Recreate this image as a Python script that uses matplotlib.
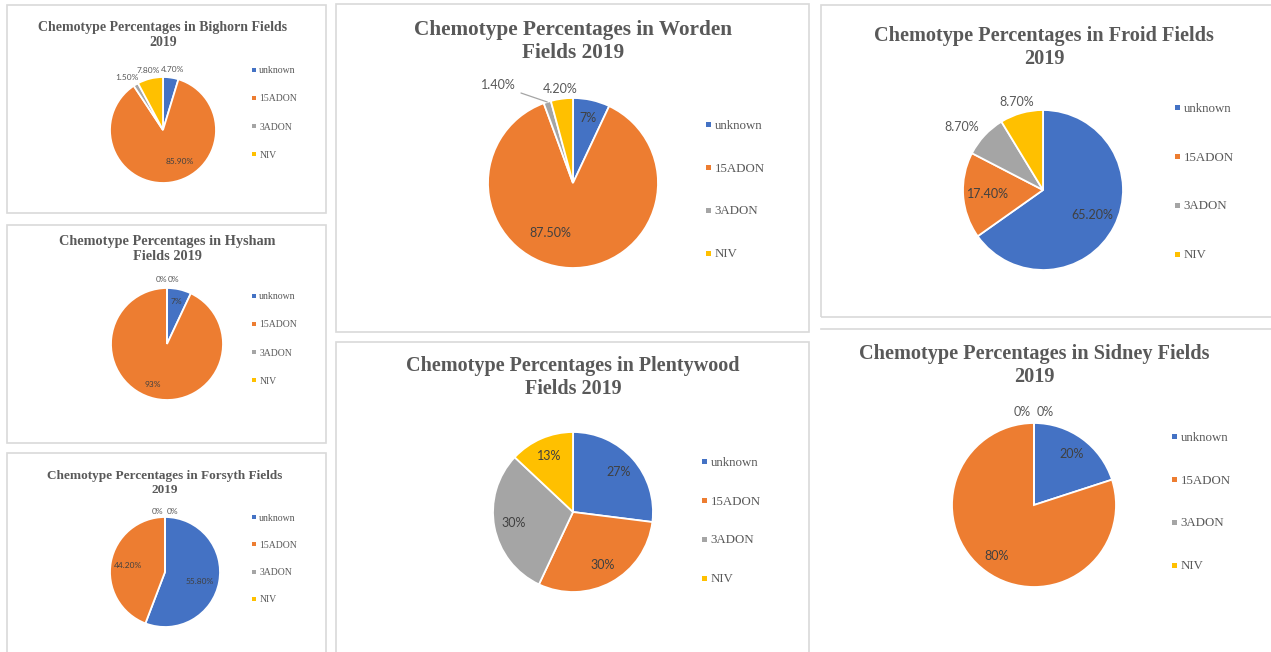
import math
import matplotlib
matplotlib.use("Agg")
import matplotlib.pyplot as plt
from matplotlib.patches import Rectangle
from matplotlib.lines import Line2D

# ---------------- data ----------------
categories = ["unknown", "15ADON", "3ADON", "NIV"]
sites = ["Bighorn", "Hysham", "Forsyth", "Worden", "Plentywood", "Froid", "Sidney"]
titles = [
    "Chemotype Percentages in Bighorn Fields\n2019",
    "Chemotype Percentages in Hysham\nFields 2019",
    "Chemotype Percentages in Forsyth Fields\n2019",
    "Chemotype Percentages in Worden\nFields 2019",
    "Chemotype Percentages in Plentywood\nFields 2019",
    "Chemotype Percentages in Froid Fields\n2019",
    "Chemotype Percentages in Sidney Fields\n2019",
]
bighorn = [4.7, 85.9, 1.5, 7.8]
hysham = [7, 93, 0, 0]
forsyth = [55.8, 44.2, 0, 0]
worden = [7, 87.5, 1.4, 4.2]
plentywood = [27, 30, 30, 13]
froid = [65.2, 17.4, 8.7, 8.7]
sidney = [20, 80, 0, 0]
values = [bighorn, hysham, forsyth, worden, plentywood, froid, sidney]

colors = ["#4472C4", "#ED7D31", "#A5A5A5", "#FFC000"]

# ---------------- layout (pixels, top-left origin) ----------------
W, H = 1271, 652
DPI = 100

small = dict(leg_fs=7, lab_fs=6, ms=2.6, zero_off=(-2, 2))
big = dict(leg_fs=9.3, lab_fs=9, ms=3.6, zero_off=(-3, 3))
layout = [
    dict(small, title_fs=10, c=(163, 130), r=53, t=(163, 35), leg=(252, 113), pitch=30,
         inside=0.63, outside=1.16, out_idx={0, 2, 3}, nudge={1: (12, -2), 2: (-5, 0)}),
    dict(small, title_fs=10.3, c=(167, 344), r=56, t=(167, 249), leg=(252, 339), pitch=30,
         inside=0.77, outside=1.16, out_idx={2, 3}, nudge={1: (-5, -2)},
         zero_off=(0, 1)),
    dict(small, title_fs=9.5, c=(165, 572), r=55, t=(165, 483), leg=(252, 559), pitch=29,
         inside=0.68, outside=1.1, out_idx={2, 3}, nudge={0: (-2, 3)}),
    dict(big, title_fs=15.3, c=(573, 183), r=85, t=(573, 42), leg=(705, 190), pitch=45,
         inside=0.78, outside=1.12, out_idx={3}, nudge={1: (-20, -16)}),
    dict(big, title_fs=14.5, c=(573, 512), r=80, t=(573, 377), leg=(701, 521), pitch=41,
         inside=0.76, outside=1.15, out_idx=set(), nudge={}),
    dict(big, title_fs=14.6, c=(1043, 190), r=80, t=(1044, 47), leg=(1174, 182), pitch=51,
         inside=0.69, outside=1.2, out_idx={2, 3}, nudge={2: (-11, 2), 3: (0, 4)}),
    dict(big, title_fs=14.6, c=(1034, 505), r=82, t=(1034, 366), leg=(1171, 502), pitch=45,
         inside=0.77, outside=1.13, out_idx={2, 3}, nudge={}),
]
panels = [(7, 5, 326, 213), (7, 225, 326, 443), (7, 453, 326, 670),
          (336, 4, 809, 332), (336, 342, 809, 670), (821, 5, 1280, 317)]

TITLE_C = "#595959"
IN_C = "#404040"
OUT_C = "#595959"
SERIF = "Liberation Serif"
SANS = "Lato"


def fx(x):
    return x / W


def fy(y):
    return 1 - y / H


def fmt(v):
    return f"{v:.0f}%" if float(v).is_integer() else f"{v:.2f}%"


fig = plt.figure(figsize=(W / DPI, H / DPI), dpi=DPI)
fig.patch.set_facecolor("white")

# panel borders
for (x0, y0, x1, y1) in panels:
    fig.add_artist(Rectangle((fx(x0), fy(y1)), fx(x1) - fx(x0), fy(y0) - fy(y1),
                             transform=fig.transFigure, fill=False,
                             edgecolor="#D9D9D9", lw=1.2))
fig.add_artist(Line2D([fx(821), fx(1275)], [fy(329), fy(329)],
                      transform=fig.transFigure, color="#D9D9D9", lw=1.2))

for k, (vals, title, L) in enumerate(zip(values, titles, layout)):
    cx, cy = L["c"]
    r = L["r"]
    s = 1.7 * r
    ax = fig.add_axes([fx(cx - s), fy(cy + s), 2 * s / W, 2 * s / H])
    wedges, _ = ax.pie(vals, colors=colors, startangle=90, counterclock=False,
                       radius=1, wedgeprops=dict(edgecolor="white", linewidth=1.3))
    ax.set_xlim(-1.7, 1.7)
    ax.set_ylim(-1.7, 1.7)
    ax.axis("off")

    zero_seen = 0
    for i, (w, v) in enumerate(zip(wedges, vals)):
        ang = math.radians((w.theta1 + w.theta2) / 2)
        txt = fmt(v)
        if sites[k] == "Worden" and i == 2:
            # leader-line label
            ex, ey = math.cos(ang), math.sin(ang)
            ax.annotate(txt, xy=(ex, ey), xytext=(-0.88, 1.15),
                        ha="center", va="center", fontsize=L["lab_fs"],
                        family=SANS, color=OUT_C,
                        arrowprops=dict(arrowstyle="-", color="#A5A5A5", lw=0.9,
                                        shrinkA=2, shrinkB=0))
            continue
        if i in L["out_idx"]:
            rad = L["outside"]
            col = OUT_C
        else:
            rad = L["inside"]
            col = IN_C
        x, y = rad * math.cos(ang), rad * math.sin(ang)
        ha = "center"
        if v == 0:
            if zero_seen == 0:
                ha = "right"
                x += L["zero_off"][0] / r
            else:
                ha = "left"
                x += L["zero_off"][1] / r
            zero_seen += 1
        dx, dy = L["nudge"].get(i, (0, 0))
        x += dx / r
        y -= dy / r
        ax.text(x, y, txt, ha=ha, va="center", fontsize=L["lab_fs"],
                family=SANS, color=col)

    # title
    fig.text(fx(L["t"][0]), fy(L["t"][1]), title, ha="center", va="center",
             fontsize=L["title_fs"], family=SERIF, weight="bold",
             color=TITLE_C, linespacing=1.2)

    # legend
    handles = [Line2D([], [], linestyle="None", marker="s", markersize=L["ms"],
                      markerfacecolor=c, markeredgewidth=0) for c in colors]
    fs_px = L["leg_fs"] * DPI / 72
    ls = L["pitch"] / fs_px - 1.11
    ax.legend(handles, categories, loc="center left",
              bbox_to_anchor=(fx(L["leg"][0]), fy(L["leg"][1])),
              bbox_transform=fig.transFigure, frameon=False,
              prop=dict(family=SERIF, size=L["leg_fs"]), labelcolor="#595959",
              handlelength=0.4, handletextpad=0.35, labelspacing=ls,
              borderpad=0, borderaxespad=0)

fig.savefig("out.png", dpi=DPI, facecolor="white")
